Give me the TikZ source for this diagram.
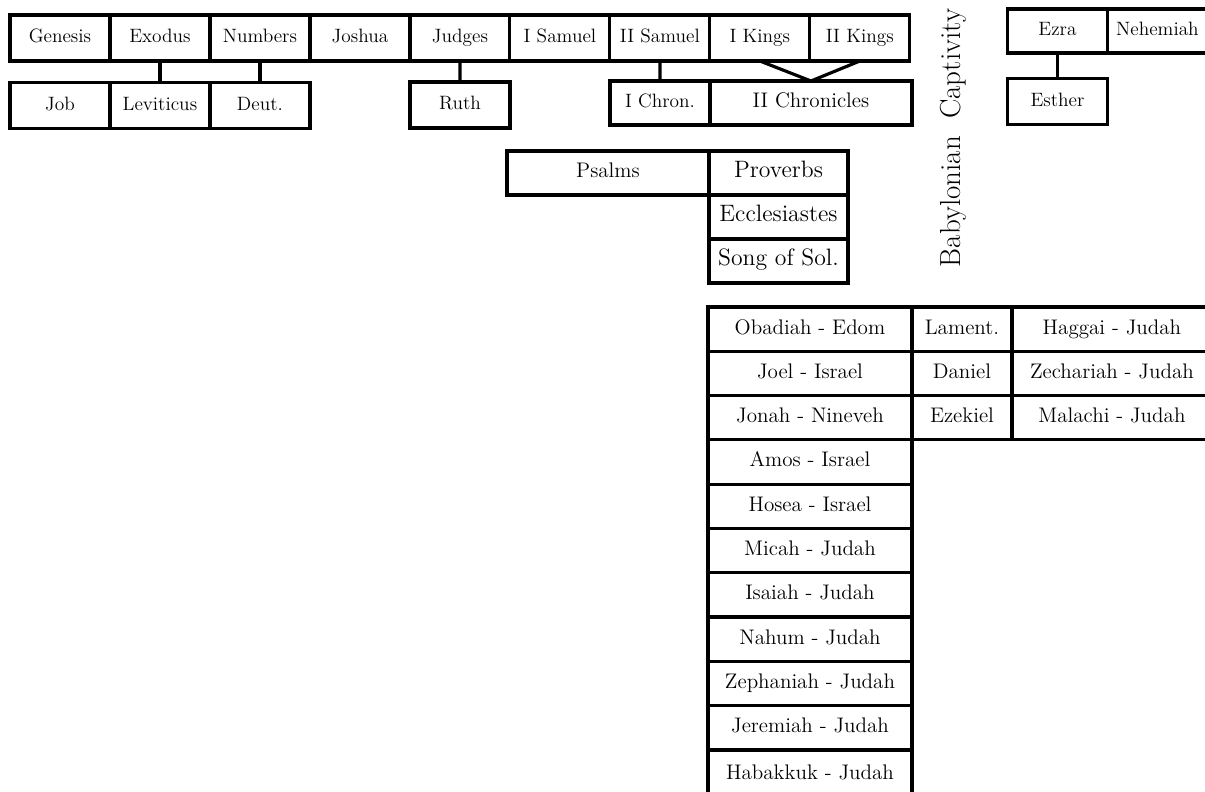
\documentclass[tikz,border=0pt]{standalone}
\usepackage{tikz}
\usetikzlibrary{positioning}

\begin{document}
\begin{tikzpicture}[x=0.02cm, y=-0.02cm, font=\fontsize{11}{13}\selectfont]

\tikzset{
    book/.style={draw, line width=1.8pt, outer sep=0pt, inner sep=0pt,
        minimum width=2cm, minimum height=0.92cm, text height=1.6ex, text depth=0.3ex},
    wide/.style={book, minimum width=4.04cm},
    poetry/.style={book, font=\fontsize{13.5}{15}\selectfont, minimum width=2.78cm, minimum height=0.88cm},
    prophet/.style={book, font=\fontsize{12}{14}\selectfont, minimum width=4.08cm, minimum height=0.886cm},
    link/.style={line width=1.8pt}
}

\useasboundingbox (0,0) rectangle (1205,792);

% Storia - prima riga
\node[book] (genesis) at (60,38) {Genesis};
\node[book, right=0pt of genesis] (exodus) {Exodus};
\node[book, right=0pt of exodus] (numbers) {Numbers};
\node[book, right=0pt of numbers] (joshua) {Joshua};
\node[book, right=0pt of joshua] (judges) {Judges};
\node[book, right=0pt of judges] (isamuel) {I Samuel};
\node[book, right=0pt of isamuel] (iisamuel) {II Samuel};
\node[book, right=0pt of iisamuel] (ikings) {I Kings};
\node[book, right=0pt of ikings] (iikings) {II Kings};

% Seconda riga
\node[book] (job) at (60,105.5) {Job};
\node[book, right=0pt of job] (leviticus) {Leviticus};
\node[book, right=0pt of leviticus] (deut) {Deut.};
\node[book] (ruth) at (460,105) {Ruth};
\node[book, minimum height=0.88cm] (ichron) at (660,103) {I Chron.};
\node[wide, minimum height=0.88cm, font=\fontsize{12}{14}\selectfont, right=0pt of ichron] (iichron) {II Chronicles};

% Collegamenti
\draw[link] (exodus) -- (leviticus);
\draw[link] (numbers) -- (deut);
\draw[link] (judges) -- (ruth);
\draw[link] (iisamuel) -- (ichron);
\draw[link] (ikings.south) -- (iichron.north) -- (iikings.south);

% Esilio
\node[rotate=90, font=\fontsize{16.5}{19}\selectfont] (exile) at (953,138) {Babylonian\hspace{0.6em}Captivity};

% Dopo l'esilio
\node[book, minimum height=0.88cm] (ezra) at (1057.5,31) {Ezra};
\node[book, minimum height=0.88cm, right=0pt of ezra] (nehemiah) {Nehemiah};
\node[book] (esther) at (1057.5,101.5) {Esther};
\draw[link] (ezra) -- (esther);

% Poesia
\node[wide, minimum height=0.88cm, font=\fontsize{12}{14}\selectfont] (psalms) at (608,173) {Psalms};
\node[poetry, right=0pt of psalms] (proverbs) {Proverbs};
\node[poetry, below=0pt of proverbs] (eccl) {Ecclesiastes};
\node[poetry, below=0pt of eccl] (song) {Song of Sol.};

% Profeti
\node[prophet] (obadiah) at (810,329.15) {Obadiah - Edom};
\node[prophet, below=0pt of obadiah] (joel) {Joel - Israel};
\node[prophet, below=0pt of joel] (jonah) {Jonah - Nineveh};
\node[prophet, below=0pt of jonah] (amos) {Amos - Israel};
\node[prophet, below=0pt of amos] (hosea) {Hosea - Israel};
\node[prophet, below=0pt of hosea] (micah) {Micah - Judah};
\node[prophet, below=0pt of micah] (isaiah) {Isaiah - Judah};
\node[prophet, below=0pt of isaiah] (nahum) {Nahum - Judah};
\node[prophet, below=0pt of nahum] (zephaniah) {Zephaniah - Judah};
\node[prophet, below=0pt of zephaniah] (jeremiah) {Jeremiah - Judah};
\node[prophet, minimum height=1cm, below=0pt of jeremiah] (habakkuk) {Habakkuk - Judah};

\node[prophet, minimum width=2cm, right=0pt of obadiah] (lament) {Lament.};
\node[prophet, minimum width=2cm, below=0pt of lament] (daniel) {Daniel};
\node[prophet, minimum width=2cm, below=0pt of daniel] (ezekiel) {Ezekiel};

\node[prophet, minimum width=4cm, right=0pt of lament] (haggai) {Haggai - Judah};
\node[prophet, minimum width=4cm, below=0pt of haggai] (zechariah) {Zechariah - Judah};
\node[prophet, minimum width=4cm, below=0pt of zechariah] (malachi) {Malachi - Judah};

\end{tikzpicture}
\end{document}
